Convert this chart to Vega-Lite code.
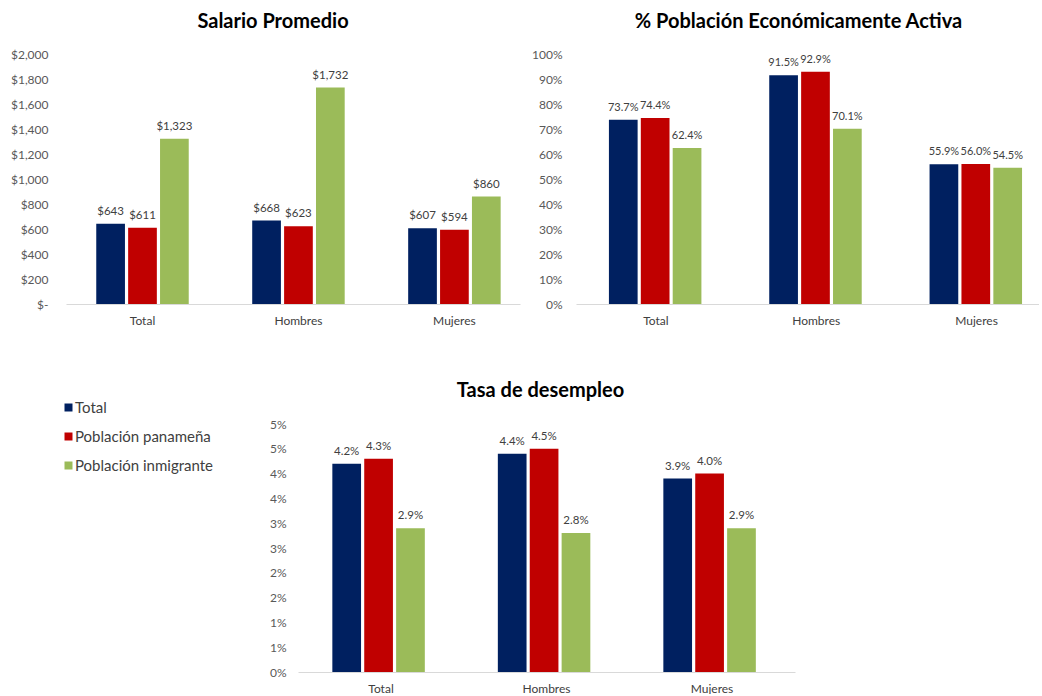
{
  "$schema": "https://vega.github.io/schema/vega-lite/v6.json",
  "padding": {"left": 10, "top": 12, "right": 0, "bottom": 0},
  "datasets": {
    "salario": [
      {"cat": "Total", "serie": "Total", "value": 643},
      {"cat": "Total", "serie": "Población panameña", "value": 611},
      {"cat": "Total", "serie": "Población inmigrante", "value": 1323},
      {"cat": "Hombres", "serie": "Total", "value": 668},
      {"cat": "Hombres", "serie": "Población panameña", "value": 623},
      {"cat": "Hombres", "serie": "Población inmigrante", "value": 1732},
      {"cat": "Mujeres", "serie": "Total", "value": 607},
      {"cat": "Mujeres", "serie": "Población panameña", "value": 594},
      {"cat": "Mujeres", "serie": "Población inmigrante", "value": 860}
    ],
    "pea": [
      {"cat": "Total", "serie": "Total", "value": 0.737},
      {"cat": "Total", "serie": "Población panameña", "value": 0.744},
      {"cat": "Total", "serie": "Población inmigrante", "value": 0.624},
      {"cat": "Hombres", "serie": "Total", "value": 0.915},
      {"cat": "Hombres", "serie": "Población panameña", "value": 0.929},
      {"cat": "Hombres", "serie": "Población inmigrante", "value": 0.701},
      {"cat": "Mujeres", "serie": "Total", "value": 0.559},
      {"cat": "Mujeres", "serie": "Población panameña", "value": 0.560},
      {"cat": "Mujeres", "serie": "Población inmigrante", "value": 0.545}
    ],
    "desempleo": [
      {"cat": "Total", "serie": "Total", "value": 0.042},
      {"cat": "Total", "serie": "Población panameña", "value": 0.043},
      {"cat": "Total", "serie": "Población inmigrante", "value": 0.029},
      {"cat": "Hombres", "serie": "Total", "value": 0.044},
      {"cat": "Hombres", "serie": "Población panameña", "value": 0.045},
      {"cat": "Hombres", "serie": "Población inmigrante", "value": 0.028},
      {"cat": "Mujeres", "serie": "Total", "value": 0.039},
      {"cat": "Mujeres", "serie": "Población panameña", "value": 0.040},
      {"cat": "Mujeres", "serie": "Población inmigrante", "value": 0.029}
    ]
  },
  "bounds": "flush",
  "spacing": 370,
  "vconcat": [
    {
      "bounds": "flush",
      "spacing": 56,
      "hconcat": [
        {
          "width": 454,
          "height": 250,
          "title": {"text": "Salario Promedio", "dx": -20},
          "data": {"name": "salario"},
          "encoding": {
            "x": {"field": "cat", "type": "nominal", "sort": ["Total", "Hombres", "Mujeres"], "title": null,
                  "scale": {"paddingInner": 0.407, "paddingOuter": 0.159, "align": 0.61}},
            "xOffset": {"field": "serie", "type": "nominal", "sort": ["Total", "Población panameña", "Población inmigrante"],
                        "scale": {"paddingInner": 0.1, "paddingOuter": 0}},
            "y": {"field": "value", "type": "quantitative", "title": null,
                  "scale": {"domain": [0, 2000], "nice": false},
                  "axis": {"values": [0, 200, 400, 600, 800, 1000, 1200, 1400, 1600, 1800, 2000],
                           "labelExpr": "datum.value === 0 ? '$-' : format(datum.value, '$,')", "labelPadding": 18}}
          },
          "layer": [
            {"mark": {"type": "bar"},
             "encoding": {"color": {"field": "serie", "type": "nominal",
               "scale": {"domain": ["Total", "Población panameña", "Población inmigrante"], "range": ["#002060", "#C00000", "#9BBB59"]},
               "legend": {"orient": "none", "legendX": -5, "legendY": 346, "title": null}}}},
            {"mark": {"type": "text", "baseline": "alphabetic", "dy": -9, "fontSize": 11.5, "color": "#404040"},
             "encoding": {"text": {"field": "value", "type": "quantitative", "format": "$,.0f"}}}
          ]
        },
        {
          "width": 463,
          "height": 250,
          "title": {"text": "% Población Económicamente Activa", "dx": -9},
          "data": {"name": "pea"},
          "encoding": {
            "x": {"field": "cat", "type": "nominal", "sort": ["Total", "Hombres", "Mujeres"], "title": null,
                  "scale": {"paddingInner": 0.414, "paddingOuter": 0.151, "align": 0.68}},
            "xOffset": {"field": "serie", "type": "nominal", "sort": ["Total", "Población panameña", "Población inmigrante"],
                        "scale": {"paddingInner": 0.1, "paddingOuter": 0}},
            "y": {"field": "value", "type": "quantitative", "title": null,
                  "scale": {"domain": [0, 1], "nice": false},
                  "axis": {"values": [0, 0.1, 0.2, 0.3, 0.4, 0.5, 0.6, 0.7, 0.8, 0.9, 1], "format": ".0%", "labelPadding": 14}}
          },
          "layer": [
            {"mark": {"type": "bar"},
             "encoding": {"color": {"field": "serie", "type": "nominal",
               "scale": {"domain": ["Total", "Población panameña", "Población inmigrante"], "range": ["#002060", "#C00000", "#9BBB59"]},
               "legend": {"orient": "none", "legendX": -5, "legendY": 346, "title": null}}}},
            {"mark": {"type": "text", "baseline": "alphabetic", "dy": -9, "fontSize": 11, "color": "#404040"},
             "encoding": {"text": {"field": "value", "type": "quantitative", "format": ".1%"}}}
          ]
        }
      ]
    },
    {
      "bounds": "flush",
      "spacing": 56,
      "hconcat": [
        {
          "width": 176,
          "height": 248,
          "data": {"values": []},
          "mark": {"type": "point", "opacity": 0},
          "encoding": {}
        },
        {
          "width": 497,
          "height": 248,
          "title": {"text": "Tasa de desempleo", "dx": -6, "offset": 17},
          "data": {"name": "desempleo"},
          "encoding": {
            "x": {"field": "cat", "type": "nominal", "sort": ["Total", "Hombres", "Mujeres"], "title": null,
                  "scale": {"paddingInner": 0.412, "paddingOuter": 0.2075, "align": 0.5}},
            "xOffset": {"field": "serie", "type": "nominal", "sort": ["Total", "Población panameña", "Población inmigrante"],
                        "scale": {"paddingInner": 0.1, "paddingOuter": 0}},
            "y": {"field": "value", "type": "quantitative", "title": null,
                  "scale": {"domain": [0, 0.05], "nice": false},
                  "axis": {"values": [0, 0.005, 0.01, 0.015, 0.02, 0.025, 0.03, 0.035, 0.04, 0.045, 0.05],
                           "labelExpr": "ceil(round(datum.value * 200) / 2) + '%'", "labelPadding": 12}}
          },
          "layer": [
            {"mark": {"type": "bar"},
             "encoding": {"color": {"field": "serie", "type": "nominal",
               "scale": {"domain": ["Total", "Población panameña", "Población inmigrante"], "range": ["#002060", "#C00000", "#9BBB59"]},
               "legend": {"orient": "none", "legendX": -5, "legendY": 346, "title": null}}}},
            {"mark": {"type": "text", "baseline": "alphabetic", "dy": -9, "fontSize": 11.5, "color": "#404040"},
             "encoding": {"text": {"field": "value", "type": "quantitative", "format": ".1%"}}}
          ]
        }
      ]
    }
  ],
  "config": {
    "font": "Lato",
    "view": {"stroke": null},
    "background": "white",
    "axis": {"labelFont": "Lato", "labelFontSize": 12, "labelColor": "#595959", "ticks": false, "grid": false},
    "axisY": {"domain": false},
    "axisX": {"domainColor": "#D9D9D9", "domainWidth": 1, "labelAngle": 0, "labelColor": "#404040", "labelPadding": 11},
    "title": {"font": "Lato", "fontSize": 20, "fontWeight": "bold", "color": "#000000", "anchor": "middle", "frame": "group", "baseline": "alphabetic", "offset": 16},
    "legend": {"labelFont": "Lato", "labelFontSize": 15, "labelColor": "#404040", "symbolType": "square", "symbolSize": 64, "symbolStrokeWidth": 0, "rowPadding": 13, "labelOffset": -1, "padding": 0, "symbolOpacity": 1}
  }
}
